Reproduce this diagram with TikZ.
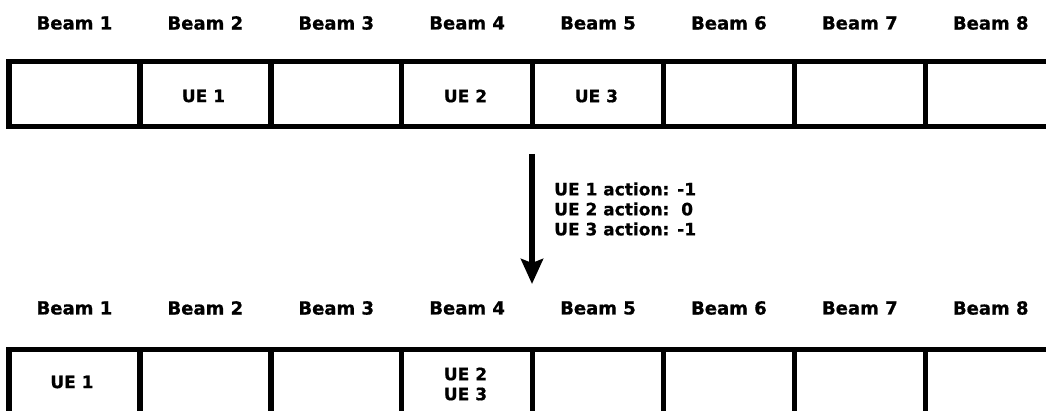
\documentclass[tikz,border=0pt]{standalone}
\usepackage{fontspec}
\setmainfont{DejaVu Sans}[BoldFeatures={FakeBold=0.8}]
\usetikzlibrary{arrows.meta}
\begin{document}
\begin{tikzpicture}[x=1pt,y=-1pt,
  beamlabel/.style={font=\bfseries\fontsize{18}{20}\selectfont, inner sep=0},
  uetext/.style={font=\bfseries\fontsize{17}{20}\selectfont, inner sep=0, align=center},
  cell/.style={draw=black, line width=5.5pt, rectangle, inner sep=0,
    minimum width=130.9pt, minimum height=65pt},
  lowcell/.style={cell, minimum height=110pt},
  bigarrow/.style={line width=5.5pt, -{Stealth[width=22pt,length=25pt,inset=4pt]}}
]
\clip (0,0) rectangle (1046,411);
\fill[white] (0,0) rectangle (1046,411);

% beam headers and cells, before and after the actions
\foreach \k in {1,...,8} {
  \pgfmathsetmacro{\cx}{9+130.9*(\k-0.5)}
  \node[beamlabel] (topbeam\k) at (\cx,23) {Beam \k};
  \node[cell] (topcell\k) at (\cx,94) {};
  \node[beamlabel] (botbeam\k) at (\cx,308) {Beam \k};
  \node[lowcell] (botcell\k) at (\cx,404.5) {};
}

% users in the first assignment
\node[uetext] (ueA) at (203.5,96) {UE 1};
\node[uetext] (ueB) at (465.5,96) {UE 2};
\node[uetext] (ueC) at (596.4,96) {UE 3};

% users after the actions
\node[uetext] (ueD) at (72,382) {UE 1};
\node[uetext] (ueE) at (465.5,384) {UE 2\\UE 3};

% transition arrow and the actions taken
\coordinate (arrowstart) at (532,154);
\coordinate (arrowend) at (532,284);
\draw[bigarrow] (arrowstart) -- (arrowend);
\node[font=\bfseries\fontsize{17}{20}\selectfont, anchor=west, align=left, inner sep=0]
  (actions) at (554,209) {UE 1 action: -1\\UE 2 action:\ \ 0\\UE 3 action: -1};
\end{tikzpicture}
\end{document}
